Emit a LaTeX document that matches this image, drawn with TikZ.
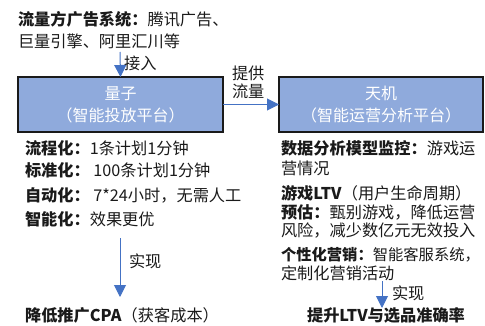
\documentclass[tikz,border=0pt]{standalone}
\usepackage{fontspec}
\setmainfont{Noto Sans CJK SC}
\usetikzlibrary{arrows.meta}
\definecolor{arrblue}{HTML}{4472C4}
\definecolor{boxfill}{HTML}{8FAADC}
\definecolor{boxline}{HTML}{1A1A1A}
\definecolor{txt}{HTML}{1A1A1A}
\begin{document}
\begin{tikzpicture}[x=1pt,y=-1pt,
  every node/.style={inner sep=0pt,outer sep=0pt,text=txt,font=\fontsize{16.2}{19}\selectfont},
  line/.style={anchor=west},
  plat/.style={draw=boxline,line width=1.5pt,fill=boxfill,minimum height=55pt,align=center,text=white,font=\fontsize{16}{22}\selectfont},
  conn/.style={arrblue,line width=1pt,-{Triangle[width=12pt,length=12pt]}}]
\useasboundingbox (0,0) rectangle (485,326);
% source
\node[line] (src1) at (18,19) {\textbf{流量方广告系统：}腾讯广告、};
\node[line] (src2) at (18,41) {巨量引擎、阿里汇川等};
\coordinate (srcend) at (120,52);
% boxes
\node[plat,minimum width=205pt] (lz) at (120.5,104.5) {量子\\（智能投放平台）};
\node[plat,minimum width=204pt] (tj) at (381,104.5) {天机\\（智能运营分析平台）};
\draw[conn] (srcend) -- (lz.north) node[pos=0.45,right=4pt,inner sep=0pt] (jr) {接入};
\draw[conn] (lz.east) -- (tj.west);
\node[align=left,anchor=west] (tg) at (232,82) {提供\\[-1pt]流量};
% left list
\node[line] (l1) at (25,148) {\textbf{流程化：}1条计划1分钟};
\node[line] (l2) at (25,170.5) {\textbf{标准化：} 100条计划1分钟};
\node[line] (l3) at (25,195) {\textbf{自动化：} 7*24小时，无需人工};
\node[line] (l4) at (25,219.5) {\textbf{智能化：}效果更优};
% right list
\node[line] (r1) at (281,148) {\textbf{数据分析模型监控：}游戏运};
\node[line] (r2) at (281,168) {营情况};
\node[line] (r3) at (281,193) {\textbf{游戏LTV}（用户生命周期）};
\node[line] (r4) at (281,212) {\textbf{预估：}甄别游戏，降低运营};
\node[line] (r5) at (281,231) {风险，减少数亿元无效投入};
\node[line,font=\fontsize{15.3}{19}\selectfont] (r6) at (281,255) {\textbf{个性化营销：}智能客服系统，};
\node[line] (r7) at (281,273) {定制化营销活动};
% results
\node (res1) at (122,315) {\textbf{降低推广CPA}（获客成本）};
\node (res2) at (386,315) {\textbf{提升LTV与选品准确率}};
\coordinate (la) at (120,238);
\coordinate (lb) at (120,297);
\draw[conn] (la) -- (lb);
\node[anchor=west] (sx1) at (129,261) {实现};
\coordinate (ra) at (382,281);
\coordinate (rb) at (382,308);
\draw[conn] (ra) -- (rb);
\node[anchor=west] (sx2) at (392,293) {实现};
\end{tikzpicture}
\end{document}
